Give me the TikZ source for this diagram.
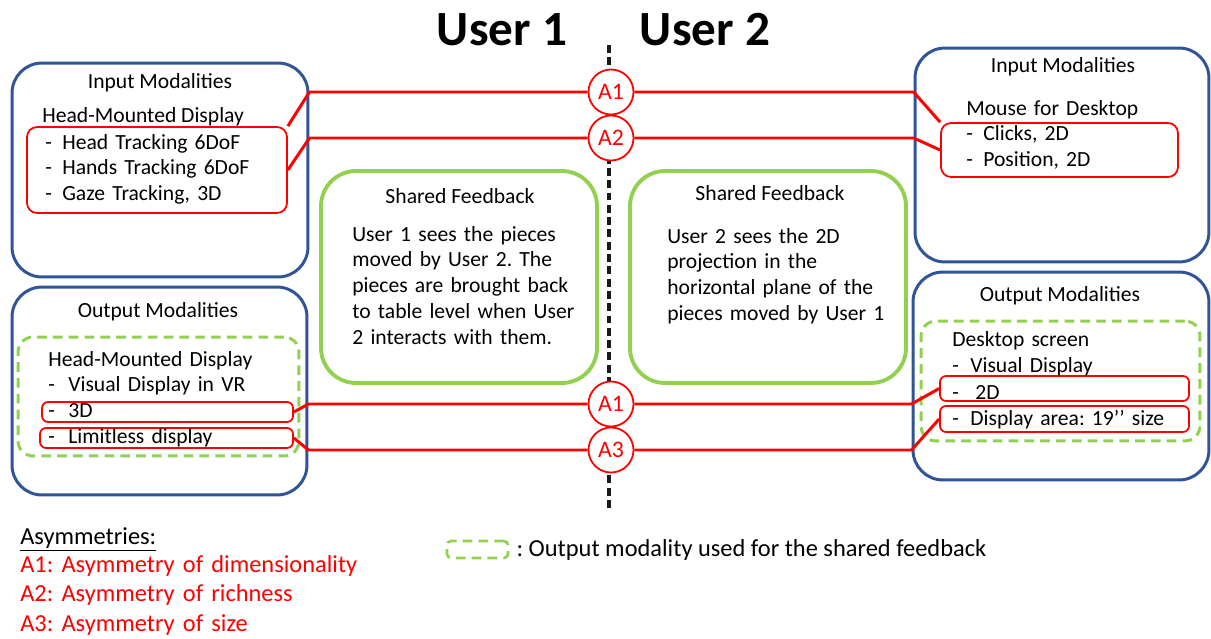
\documentclass[tikz,border=0pt]{standalone}
\usepackage{fontspec}
\setmainfont{Carlito}
\definecolor{ModBlue}{HTML}{2F5597}
\definecolor{FbGreen}{HTML}{92D050}
\definecolor{AsymRed}{HTML}{FF0000}
\usetikzlibrary{positioning}
\tikzset{
  bluebox/.style={rectangle, rounded corners=0.6cm, draw=ModBlue, line width=1.7pt, inner sep=0pt},
  redbox/.style={rectangle, rounded corners=0.2cm, draw=AsymRed, line width=1pt, inner sep=0pt},
  dashbox/.style={rectangle, rounded corners=0.3cm, draw=FbGreen, line width=1.7pt, dash pattern=on 5.5pt off 3.5pt, inner sep=0pt},
  fbbox/.style={rectangle, rounded corners=0.7cm, draw=FbGreen, line width=2.2pt, inner sep=0pt, minimum width=5.52cm, minimum height=4.24cm},
  asymnode/.style={circle, draw=AsymRed, line width=1pt, fill=white, minimum size=0.9cm, inner sep=0pt, text=AsymRed, font=\fontsize{13.5}{16}\selectfont},
  redline/.style={draw=AsymRed, line width=1.7pt},
  txt/.style={inner sep=0pt, font=\fontsize{12.3}{14.7}\selectfont},
  listtxt/.style={txt, align=left, anchor=base west},
  usertitle/.style={inner sep=0pt, anchor=base, font=\fontsize{28}{32}\selectfont\bfseries},
  legendtxt/.style={inner sep=0pt, anchor=base west, align=left, font=\fontsize{13.9}{17}\selectfont}
}
\newcommand{\itm}[1][0.34cm]{\makebox[#1][l]{-}}
\frenchspacing

\begin{document}
\begin{tikzpicture}[x=0.02cm, y=-0.02cm]
  \useasboundingbox (0,0) rectangle (1211,639);

  \node[usertitle] (u1) at (502,45) {User 1};
  \node[usertitle] (u2) at (705,45) {User 2};

  \coordinate (divtop) at (609,45);
  \coordinate (divbot) at (609,508);
  \draw[black!90, line width=2.5pt, dash pattern=on 4.5pt off 2.5pt] (divtop) -- (divbot);

  % modality boxes
  \node[bluebox, minimum width=5.92cm, minimum height=4.28cm] (inL) at (160,170) {};
  \node[bluebox, minimum width=5.9cm, minimum height=4.16cm] (outL) at (159.5,391) {};
  \node[bluebox, minimum width=5.88cm, minimum height=4.28cm] (inR) at (1062,155) {};
  \node[bluebox, minimum width=5.92cm, minimum height=4.16cm] (outR) at (1061,376) {};

  \node[dashbox, minimum width=5.62cm, minimum height=2.38cm] (gL) at (158.5,396.5) {};
  \node[dashbox, minimum width=5.58cm, minimum height=2.4cm] (gR) at (1060.5,381) {};

  \node[redbox, minimum width=5.2cm, minimum height=1.72cm] (redL) at (157,170) {};
  \node[redbox, minimum width=4.74cm, minimum height=1.08cm] (redR) at (1059.5,150) {};
  \node[redbox, rounded corners=0.12cm, minimum width=5.02cm, minimum height=0.4cm] (red3d) at (167.5,412) {};
  \node[redbox, rounded corners=0.12cm, minimum width=5.06cm, minimum height=0.4cm] (redlim) at (166.5,438) {};
  \node[redbox, rounded corners=0.12cm, minimum width=4.98cm, minimum height=0.5cm] (red2d) at (1064.5,388.5) {};
  \node[redbox, rounded corners=0.12cm, minimum width=4.98cm, minimum height=0.52cm] (redsize) at (1064.5,419) {};

  \node[txt, anchor=base] (inLt) at (160,88) {Input Modalities};
  \node[listtxt] (inLh) at (42,122) {Head-Mounted Display};
  \node[listtxt, text width=5cm] (inLl) at (45,149) {\itm Head Tracking 6DoF\\ \itm Hands Tracking 6DoF\\ \itm Gaze Tracking, 3D};

  \node[txt, anchor=base] (outLt) at (158,317) {Output Modalities};
  \node[listtxt, text width=5cm] (outLl) at (48,366) {Head-Mounted Display\\ \itm[0.4cm]Visual Display in VR\\ \itm[0.4cm]3D\\ \itm[0.4cm]Limitless display};

  \node[txt, anchor=base] (inRt) at (1063,72) {Input Modalities};
  \node[listtxt, text width=4.5cm] (inRl) at (966,115) {Mouse for Desktop\\ \itm Clicks, 2D\\ \itm Position, 2D};

  \node[txt, anchor=base] (outRt) at (1060,301) {Output Modalities};
  \node[listtxt, text width=4.8cm, font=\fontsize{12.3}{15.1}\selectfont] (outRl) at (952,346) {Desktop screen\\ \itm[0.36cm]Visual Display\\ \itm[0.36cm]\hspace{0.1cm}2D\\ \itm[0.36cm]Display area: 19’’ size};

  % shared feedback
  \node[fbbox] (fbL) at (459,277) {};
  \node[fbbox] (fbR) at (768,277) {};
  \node[txt, anchor=base] (fbLt) at (460,203) {Shared Feedback};
  \node[listtxt, text width=5cm] (fbLb) at (352,241) {User 1 sees the pieces\\moved by User 2. The\\pieces are brought back\\to table level when User\\2 interacts with them.};
  \node[txt, anchor=base] (fbRt) at (770,200) {Shared Feedback};
  \node[listtxt, text width=5cm] (fbRb) at (667,243) {User 2 sees the 2D\\projection in the\\horizontal plane of the\\pieces moved by User 1};

  % asymmetries
  \node[asymnode] (a1t) at (611,92) {A1};
  \node[asymnode] (a2) at (611,138) {A2};
  \node[asymnode] (a1b) at (611,404) {A1};
  \node[asymnode] (a3) at (611,450) {A3};

  \draw[redline] (redL.north east) -- (a1t -| inL.east) -- (a1t.west);
  \draw[redline] (a1t.east) -- (a1t -| inR.west) -- (redR.north west);
  \draw[redline] (redL.east) -- (a2 -| inL.east) -- (a2.west);
  \draw[redline] (a2.east) -- (a2 -| inR.west) -- (redR.west);
  \draw[redline] (red3d.east) -- (a1b -| outL.east) -- (a1b.west);
  \draw[redline] (a1b.east) -- (a1b -| outR.west) -- (red2d.west);
  \draw[redline] (redlim.east) -- (a3 -| outL.east) -- (a3.west);
  \draw[redline] (a3.east) -- (a3 -| outR.west) -- (redsize.west);

  % legend
  \node[legendtxt] (asymt) at (20,544) {\underline{Asymmetries:}};
  \node[legendtxt, text width=8cm, text=AsymRed] (asyml) at (20,572) {A1: Asymmetry of dimensionality\\A2: Asymmetry of richness\\A3: Asymmetry of size};
  \node[dashbox, rounded corners=0.08cm, line width=1.5pt, minimum width=1.22cm, minimum height=0.34cm] (legbox) at (477.5,549.5) {};
  \node[legendtxt, anchor=west, right=0.14cm of legbox] (legt) {: Output modality used for the shared feedback};
\end{tikzpicture}
\end{document}
